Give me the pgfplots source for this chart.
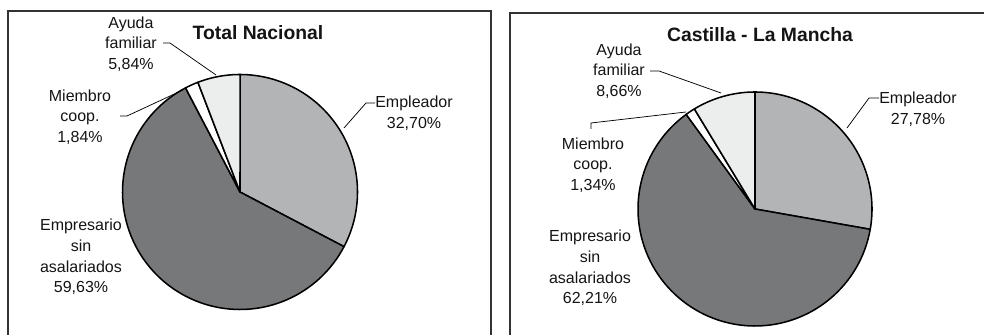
\documentclass[border=0pt]{standalone}
\usepackage{fontspec}
\setmainfont{Liberation Sans}
\usepackage{pgfplots}
\pgfplotsset{compat=1.18}

\definecolor{cEmpleador}{HTML}{B3B4B6}
\definecolor{cEmpresario}{HTML}{77787A}
\definecolor{cMiembro}{HTML}{FFFFFF}
\definecolor{cAyuda}{HTML}{ECEEED}
\definecolor{boxgray}{HTML}{333333}

\tikzset{
    lab/.style={align=center, text=black!92, font=\fontsize{12}{15.5}\selectfont},
    ttl/.style={align=center, text=black!92, font=\bfseries\fontsize{14.5}{16}\selectfont},
    lead/.style={draw=black, line width=0.55pt},
}

% one pie slice: centre x, centre y, radius, cumulative start (%), share (%), colour
\newcommand{\slice}[6]{%
  \addplot[fill=#6, draw=black, line width=1.15pt, line join=round,
    variable=\t, samples=90, domain={90-3.6*(#4+#5)}:{90-3.6*#4}]
    ({#1+#3*cos(\t)}, {#2+#3*sin(\t)}) -- (axis cs:#1,#2) -- cycle;
}

\begin{document}
\begin{tikzpicture}
\begin{axis}[
    scale only axis,
    width=738pt, height=251.25pt,
    xmin=0, xmax=984, ymin=0, ymax=335,
    hide axis,
    clip=false,
]
% frames
\draw[boxgray, line width=1.3pt] (8,0) -- (8,324) -- (491,324) -- (491,0);
\draw[boxgray, line width=1.3pt] (510,0) -- (510,322) -- (984,322);

% Total Nacional: Empleador 32,70 / Empresario sin asalariados 59,63 / Miembro coop. 1,84 / Ayuda familiar 5,84
\slice{240}{143}{117.5}{0}{32.70}{cEmpleador}
\slice{240}{143}{117.5}{32.70}{59.63}{cEmpresario}
\slice{240}{143}{117.5}{92.33}{1.84}{cMiembro}
\slice{240}{143}{117.5}{94.17}{5.84}{cAyuda}

% Castilla - La Mancha: 27,78 / 62,21 / 1,34 / 8,66
\slice{755}{126}{117}{0}{27.78}{cEmpleador}
\slice{755}{126}{117}{27.78}{62.21}{cEmpresario}
\slice{755}{126}{117}{89.99}{1.34}{cMiembro}
\slice{755}{126}{117}{91.33}{8.66}{cAyuda}

% titles
\node[ttl] at (axis cs:258,302) {Total Nacional};
\node[ttl] at (axis cs:760,300) {Castilla - La Mancha};

% labels, left
\draw[lead] (344,207) -- (366,232) -- (375,232);
\node[lab] at (axis cs:414,221.5) {Empleador\\32,70\%};
\draw[lead] (163,292) -- (170,292) -- (216,260);
\node[lab] at (axis cs:131,291) {Ayuda\\familiar\\5,84\%};
\draw[lead] (120,219) -- (127,219) -- (183,245);
\node[lab] at (axis cs:80,218) {Miembro\\coop.\\1,84\%};
\node[lab] at (axis cs:81,78) {Empresario\\sin\\asalariados\\59,63\%};

% labels, right
\draw[lead] (847,207) -- (869,237) -- (879,237);
\node[lab] at (axis cs:918,225.5) {Empleador\\27,78\%};
\draw[lead] (650,264) -- (659,264) -- (721,242);
\node[lab] at (axis cs:619,264) {Ayuda\\familiar\\8,66\%};
\draw[lead] (591,206) -- (591,212) -- (686,223);
\node[lab] at (axis cs:593,170) {Miembro\\coop.\\1,34\%};
\node[lab] at (axis cs:590,67) {Empresario\\sin\\asalariados\\62,21\%};
\end{axis}
\pgfresetboundingbox
\useasboundingbox (0,0) rectangle (738pt,251.25pt);
\end{tikzpicture}
\end{document}
